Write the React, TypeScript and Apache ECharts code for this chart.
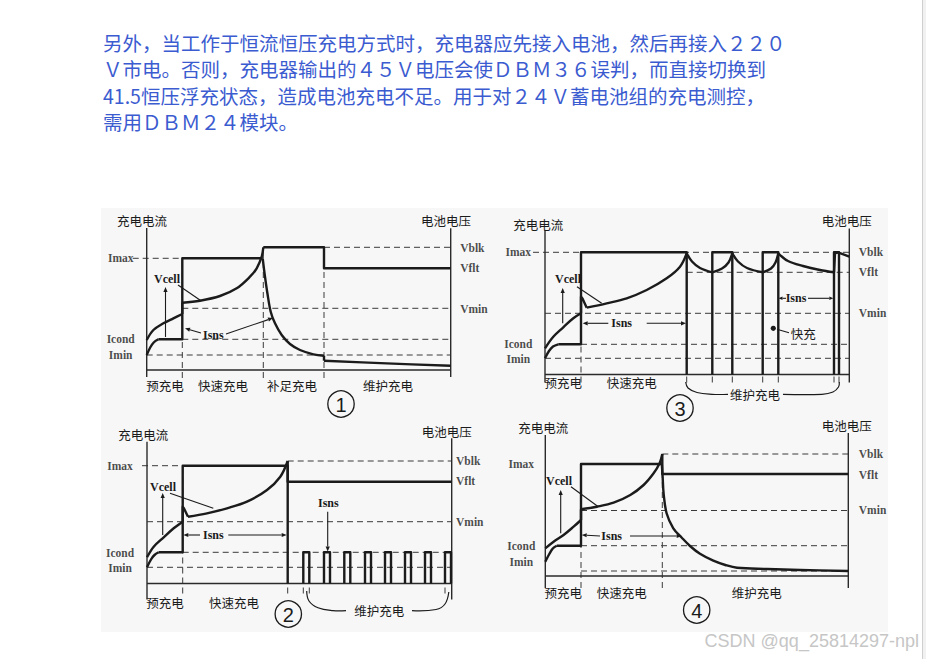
import React, { useEffect, useRef } from "react";
import * as echarts from "echarts";

type Pt = [number, number];
type Seg = { smooth: boolean; pts: Pt[] };
type Lab = [string, number];

// ---------------- text content ----------------
const PARAGRAPH_LINES = [
  "另外，当工作于恒流恒压充电方式时，充电器应先接入电池，然后再接入２２０",
  "Ｖ市电。否则，充电器输出的４５Ｖ电压会使ＤＢＭ３６误判，而直接切换到",
  "41.5恒压浮充状态，造成电池充电不足。用于对２４Ｖ蓄电池组的充电测控，",
  "需用ＤＢＭ２４模块。",
];
const WATERMARK = "CSDN @qq_25814297-npl";
const LEFT_TITLE = "充电电流";
const RIGHT_TITLE = "电池电压";
const PANEL_NUMBERS = ["1", "2", "3", "4"];
const P1_PHASES = ["预充电", "快速充电", "补足充电", "维护充电"];
const P2_PHASES = ["预充电", "快速充电", "维护充电"];
const P3_PHASES = ["预充电", "快速充电", "维护充电"];
const P4_PHASES = ["预充电", "快速充电", "维护充电"];

// ---------------- panel 1 (time units / level units above baseline) ----------------
const P1_ISNS: Seg[] = [
  { smooth: true, pts: [[0, 15], [3.5, 22.5], [7, 27.5], [11.7, 30.7]] },
  { smooth: false, pts: [[11.7, 30.7], [35.6, 30.7], [35.6, 111.7], [116, 111.7]] },
  { smooth: true, pts: [[116, 111.7], [118.3, 93.3], [120.7, 76.7], [124, 58.3], [128.3, 46.7], [135, 35], [143.3, 26], [153.3, 20], [166.7, 15.7], [177.3, 14.3]] },
  { smooth: false, pts: [[177.3, 14.3], [177.3, 9.3]] },
  { smooth: true, pts: [[177.3, 9.3], [240, 6.6], [304, 4.3]] },
];
const P1_VCELL: Seg[] = [
  { smooth: true, pts: [[0, 30], [6.7, 40], [16.7, 46.7], [26.7, 51.7], [35.6, 56]] },
  { smooth: false, pts: [[35.6, 56], [35.6, 67.3]] },
  { smooth: true, pts: [[35.6, 67.3], [53.3, 69.3], [73.3, 74], [90, 81.7], [103.3, 93.3], [110, 101.7], [115, 113.3], [116.6, 122.7]] },
  { smooth: false, pts: [[116.6, 122.7], [177.3, 122.7], [177.3, 101.7], [304, 101.7]] },
];
const P1_DASH_H: [number, number, number][] = [[111.7, -14, 35.6], [122.7, 177.3, 304], [61.7, 35.6, 304], [30.7, 35.6, 304], [15, 0, 304]];
const P1_DASH_V: [number, number, number][] = [[35.6, -8, 111.7], [116.6, -8, 122.7], [177.3, -8, 122.7]];
const P1_LEFT_LABELS: Lab[] = [["Imax", 111.7], ["Icond", 30.7], ["Imin", 15]];
const P1_RIGHT_LABELS: Lab[] = [["Vblk", 122], ["Vflt", 101.7], ["Vmin", 61]];

// ---------------- panel 2 ----------------
const P2_PULSE_STARTS = [156.3, 177, 197.3, 218, 238, 258, 278, 298];
const P2_PULSE_WIDTH = 6;
const P2_ICOND = 31.2;
const P2_ISNS: Seg[] = [
  { smooth: true, pts: [[0, 16.2], [4, 24], [7.5, 28.5], [11.7, 31.2]] },
  { smooth: false, pts: [[11.7, 31.2], [35.7, 31.2], [35.7, 117.8], [140.7, 117.8], [140.7, 0]] },
];
const P2_VCELL: Seg[] = [
  { smooth: true, pts: [[0, 26.2], [6.7, 36.8], [16.7, 46.2], [26.7, 55.2], [35.7, 61.8]] },
  { smooth: false, pts: [[35.7, 61.8], [35.7, 76.8], [37, 75], [41, 66.8]] },
  { smooth: true, pts: [[41, 66.8], [60, 70.2], [80, 75.2], [100, 81.8], [120, 93.5], [133.3, 106.8], [140.7, 122.5]] },
  { smooth: false, pts: [[140.7, 122.5], [140.7, 101.8], [304.7, 101.8]] },
];
const P2_DASH_H: [number, number, number][] = [[117.8, -5, 35.7], [122.5, 140.7, 304.7], [61.8, 0, 304.7], [31.2, 35.7, 304.7], [16.2, 0, 304.7]];
const P2_DASH_V: [number, number, number][] = [[35.7, -10, 117.8], [140.7, -10, 0], [156.3, -10, 0], [162.3, -10, 0], [298, -10, 0]];
const P2_LEFT_LABELS: Lab[] = [["Imax", 117.8], ["Icond", 30.8], ["Imin", 15.8]];
const P2_RIGHT_LABELS: Lab[] = [["Vblk", 122.5], ["Vflt", 102.5], ["Vmin", 61.2]];

// ---------------- panel 3 ----------------
const P3_ISNS: Seg[] = [
  { smooth: true, pts: [[0, 16.2], [4, 23.5], [8, 28], [13.3, 30.2]] },
  { smooth: false, pts: [[13.3, 30.2], [36, 30.2], [36, 122.2], [141.7, 122.2], [141.7, 0]] },
  { smooth: false, pts: [[167.3, 0], [167.3, 122.2], [187.3, 122.2], [187.3, 0]] },
  { smooth: false, pts: [[217.7, 0], [217.7, 122.2], [233.3, 122.2], [233.3, 0]] },
  { smooth: false, pts: [[289, 0], [289, 122.2], [294, 122.2], [294, 0]] },
];
const P3_VCELL: Seg[] = [
  { smooth: true, pts: [[0, 26.2], [8.3, 37.8], [18.3, 47.2], [28.3, 56.2], [36, 61.2]] },
  { smooth: false, pts: [[36, 61.2], [36, 77.8], [37.5, 76], [41.7, 66.8]] },
  { smooth: true, pts: [[41.7, 66.8], [61.7, 71.2], [81.7, 76.2], [101.7, 84.5], [121.7, 96.2], [135, 107.8], [141.7, 121.2]] },
  { smooth: true, pts: [[141.7, 121.2], [147, 113], [155, 106.5], [167.3, 102.2]] },
  { smooth: true, pts: [[167.3, 102.2], [177, 106], [183.5, 112], [187.3, 121.2]] },
  { smooth: true, pts: [[187.3, 121.2], [193, 113], [202, 106.5], [217.7, 102.2]] },
  { smooth: true, pts: [[217.7, 102.2], [226, 106], [230.5, 112], [233.3, 121.2]] },
  { smooth: true, pts: [[233.3, 121.2], [243, 113.5], [258, 108.5], [275, 104.5], [289, 102.2]] },
  { smooth: false, pts: [[289, 102.2], [290, 121], [293, 122.2], [304.3, 117.8]] },
];
const P3_DASH_H: [number, number, number][] = [[122.2, -12, 304.3], [102.2, 141.7, 304.3], [61.2, 0, 304.3], [30.2, 36, 304.3], [16.2, 0, 304.3]];
const P3_DASH_V: [number, number, number][] = [[36, -8, 122.2], [141.7, -8, 0], [167.3, -8, 0], [187.3, -8, 0], [217.7, -8, 0], [233.3, -8, 0], [289, -8, 0], [294, -8, 0]];
const P3_LEFT_LABELS: Lab[] = [["Imax", 122.2], ["Icond", 30.2], ["Imin", 15.5]];
const P3_RIGHT_LABELS: Lab[] = [["Vblk", 122.2], ["Vflt", 102.8], ["Vmin", 61.2]];

// ---------------- panel 4 ----------------
const P4_ISNS: Seg[] = [
  { smooth: true, pts: [[0, 14.3], [4, 22], [7.5, 27.5], [11.5, 30.3]] },
  { smooth: false, pts: [[11.5, 30.3], [35.7, 30.3], [35.7, 112], [116.5, 112]] },
  { smooth: true, pts: [[116.5, 112], [117.3, 100], [118.3, 82.7], [121.3, 62.7], [128, 47.7], [136.3, 38.5], [144.7, 30], [154.7, 22.2], [168, 15.3], [180, 11], [191.7, 8.2], [221.7, 7], [255, 6], [303, 5]] },
];
const P4_VCELL: Seg[] = [
  { smooth: true, pts: [[0, 27.7], [8.3, 34.3], [18.3, 41], [28.3, 49.3], [35.7, 56]] },
  { smooth: false, pts: [[35.7, 56], [35.7, 66.7]] },
  { smooth: true, pts: [[35.7, 66.7], [51.7, 69.3], [68.3, 73.3], [85, 81], [98.3, 91], [108.3, 102.7], [114.3, 112.7], [117, 122]] },
  { smooth: false, pts: [[117, 122], [117, 102], [303, 102]] },
];
const P4_DASH_H: [number, number, number][] = [[122, 117, 303], [65.5, 35.7, 303], [30.3, 35.7, 303], [5, 35.7, 303]];
const P4_DASH_V: [number, number, number][] = [[35.7, -12, 112], [117, -12, 122]];
const P4_LEFT_LABELS: Lab[] = [["Imax", 111.7], ["Icond", 30.3], ["Imin", 14.3]];
const P4_RIGHT_LABELS: Lab[] = [["Vblk", 122.3], ["Vflt", 101], ["Vmin", 66]];

function pulses(starts: number[], w: number, h: number, end: number): Seg[] {
  return starts.map((s) => {
    const e = Math.min(s + w, end);
    return { smooth: false, pts: [[s, 0], [s, h], [e, h], [e, 0]] as Pt[] };
  });
}

// ---------------- layout (positions only) ----------------
const PANELS = [
  { x0: 146.7, y0: 370, w: 304, hL: 142, hR: 141.7, bot: -7, lx: -26, rx: 313, isns: P1_ISNS, vcell: P1_VCELL, dh: P1_DASH_H, dv: P1_DASH_V, ll: P1_LEFT_LABELS, rl: P1_RIGHT_LABELS },
  { x0: 147, y0: 583.5, w: 304.7, hL: 141.8, hR: 145.2, bot: -16, lx: -27, rx: 308.5, isns: [...P2_ISNS, ...pulses(P2_PULSE_STARTS, P2_PULSE_WIDTH, P2_ICOND, 304.7)], vcell: P2_VCELL, dh: P2_DASH_H, dv: P2_DASH_V, ll: P2_LEFT_LABELS, rl: P2_RIGHT_LABELS },
  { x0: 545, y0: 374.5, w: 304.3, hL: 144.5, hR: 146, bot: -8, lx: -26.7, rx: 313.3, isns: P3_ISNS, vcell: P3_VCELL, dh: P3_DASH_H, dv: P3_DASH_V, ll: P3_LEFT_LABELS, rl: P3_RIGHT_LABELS },
  { x0: 545.3, y0: 576, w: 303, hL: 141, hR: 143, bot: -12, lx: -24, rx: 313, isns: P4_ISNS, vcell: P4_VCELL, dh: P4_DASH_H, dv: P4_DASH_V, ll: P4_LEFT_LABELS, rl: P4_RIGHT_LABELS },
];

const INK = "#1b1b1b";
const CJK = "'Noto Sans CJK SC', sans-serif";
const SERIF = "'Liberation Serif', 'DejaVu Serif', serif";
const PAD_X = 60;
const Y_MIN = -24;
const Y_MAX = 160;

function txt(x: number, y: number, text: string, o: any = {}) {
  const align = o.align || "center";
  return {
    type: "text", x, y, z: 50, silent: true,
    style: {
      text, fill: o.fill || INK, fontSize: o.size || 13, fontFamily: o.family || CJK,
      fontWeight: o.weight || "normal", align, textAlign: align,
      verticalAlign: "middle", textVerticalAlign: "middle",
    },
  };
}
function ln(x1: number, y1: number, x2: number, y2: number, w = 1.1) {
  return { type: "line", z: 50, silent: true, shape: { x1, y1, x2, y2 }, style: { stroke: INK, lineWidth: w } };
}
function arrow(x1: number, y1: number, x2: number, y2: number, head = 5) {
  const dx = x2 - x1, dy = y2 - y1;
  const L = Math.hypot(dx, dy) || 1;
  const ux = dx / L, uy = dy / L;
  const bx = x2 - ux * head, by = y2 - uy * head;
  const hw = head * 0.42;
  return [
    ln(x1, y1, bx, by),
    { type: "polygon", z: 50, silent: true, shape: { points: [[x2, y2], [bx - uy * hw, by + ux * hw], [bx + uy * hw, by - ux * hw]] }, style: { fill: INK } },
  ];
}
function circled(cx: number, cy: number, n: string) {
  return [
    { type: "circle", z: 50, silent: true, shape: { cx, cy, r: 13.2 }, style: { fill: "none", stroke: INK, lineWidth: 1.3 } },
    txt(cx, cy + 1, n, { size: 20, family: "'Liberation Sans', Arial, sans-serif" }),
  ];
}
function curve(points: number[][]) {
  return { type: "polyline", z: 50, silent: true, shape: { points, smooth: 0.4 }, style: { stroke: INK, lineWidth: 1.2, fill: null } };
}

function buildOption() {
  const grid: any[] = [], xAxis: any[] = [], yAxis: any[] = [], series: any[] = [];
  PANELS.forEach((p, i) => {
    grid.push({ left: p.x0 - PAD_X, top: p.y0 - Y_MAX, width: p.w + 2 * PAD_X, height: Y_MAX - Y_MIN, show: false });
    xAxis.push({ gridIndex: i, type: "value", min: -PAD_X, max: p.w + PAD_X, show: false });
    yAxis.push({ gridIndex: i, type: "value", min: Y_MIN, max: Y_MAX, show: false });
    const base = { type: "line", xAxisIndex: i, yAxisIndex: i, symbol: "none", silent: true, clip: false, animation: false };
    // axes
    const axisStyle = { color: "#2a2a2a", width: 1.4 };
    series.push({ ...base, z: 3, lineStyle: axisStyle, data: [[0, p.bot], [0, p.hL]] });
    series.push({ ...base, z: 3, lineStyle: axisStyle, data: [[p.w, p.bot], [p.w, p.hR]] });
    series.push({ ...base, z: 3, lineStyle: axisStyle, data: [[0, 0], [p.w, 0]] });
    // dashed levels
    p.dh.forEach(([lv, a, b]) => series.push({ ...base, z: 2, lineStyle: { color: "#3a3a3a", width: 1, type: [6, 4] }, data: [[a, lv], [b, lv]] }));
    p.dv.forEach(([t, a, b]) => series.push({ ...base, z: 2, lineStyle: { color: "#3a3a3a", width: 1, type: [6, 4] }, data: [[t, a], [t, b]] }));
    // curves
    [...p.isns, ...p.vcell].forEach((s) => series.push({ ...base, z: 5, smooth: s.smooth ? 0.35 : false, lineStyle: { color: INK, width: 2.4, join: "round" }, data: s.pts }));
    // level labels
    const lab = { show: true, formatter: "{b}", color: INK, fontFamily: SERIF, fontWeight: "bold", fontSize: 11.5 };
    series.push({ type: "scatter", xAxisIndex: i, yAxisIndex: i, symbolSize: 1, silent: true, itemStyle: { color: "rgba(0,0,0,0)" }, label: { ...lab, position: "inside" }, data: p.ll.map(([n, v]) => ({ name: n, value: [p.lx, v] })) });
    series.push({ type: "scatter", xAxisIndex: i, yAxisIndex: i, symbolSize: 1, silent: true, itemStyle: { color: "rgba(0,0,0,0)" }, label: { ...lab, position: "right", distance: 0 }, data: p.rl.map(([n, v]) => ({ name: n, value: [p.rx, v] })) });
  });

  const g: any[] = [];
  g.push({ type: "rect", z: -10, silent: true, shape: { x: 101, y: 208, width: 787, height: 424 }, style: { fill: "#f7f7f7" } });
  g.push({ type: "rect", z: -10, silent: true, shape: { x: 923, y: 0, width: 3, height: 659 }, style: { fill: "#f1f1f1" } });
  g.push({ type: "line", z: -9, silent: true, shape: { x1: 922.5, y1: 0, x2: 922.5, y2: 659 }, style: { stroke: "#cfcfcf", lineWidth: 1 } });

  const LINE_Y = [42, 68.5, 95, 121.5];
  PARAGRAPH_LINES.forEach((t, k) => g.push(txt(103, LINE_Y[k], t, { align: "left", size: 19.5, fill: "#3b5bd0" })));
  g.push(txt(919, 641, WATERMARK, { align: "right", size: 18, fill: "#c6c6c6", family: "'Liberation Sans', Arial, sans-serif" }));

  // titles
  [[142, 220, 446, 220], [143.3, 434, 446.7, 431], [538.3, 224, 846.7, 220], [543.3, 427.3, 846.7, 425]].forEach(([a, b, c, d]) => {
    g.push(txt(a, b, LEFT_TITLE, { size: 12.5 }));
    g.push(txt(c, d, RIGHT_TITLE, { size: 12.5 }));
  });

  // phase labels
  [[165, 385], [223, 385], [292, 385], [388, 385]].forEach(([x, y], k) => g.push(txt(x, y, P1_PHASES[k], { size: 12.5 })));
  [[165, 602.3], [234, 602.3], [379.3, 610.7]].forEach(([x, y], k) => g.push(txt(x, y, P2_PHASES[k], { size: 12.5 })));
  [[563.3, 382.7], [631.7, 382.7], [755, 394.3]].forEach(([x, y], k) => g.push(txt(x, y, P3_PHASES[k], { size: 12.5 })));
  [[563.3, 592.7], [621.7, 592.7], [756.7, 592.7]].forEach(([x, y], k) => g.push(txt(x, y, P4_PHASES[k], { size: 12.5 })));

  // braces
  g.push(curve([[306.7, 591], [309, 601], [318, 607.8], [333, 610.7], [346, 610.7]]));
  g.push(curve([[412, 610.7], [436, 609.5], [445, 604], [448.8, 592]]));
  g.push(curve([[685.7, 382], [688, 388], [697, 392.5], [712, 394.3], [728, 394.3]]));
  g.push(curve([[783, 394.3], [822, 394.3], [833, 392], [838.5, 387], [839.3, 382]]));

  // circled numbers
  g.push(...circled(341, 404, PANEL_NUMBERS[0]));
  g.push(...circled(288.3, 614, PANEL_NUMBERS[1]));
  g.push(...circled(680, 408, PANEL_NUMBERS[2]));
  g.push(...circled(696.7, 610, PANEL_NUMBERS[3]));

  const ann = { size: 12, family: SERIF, weight: "bold" };
  // panel 1 annotations
  g.push(txt(167, 279, "Vcell", ann));
  g.push(...arrow(165.5, 337, 165.5, 287));
  g.push(ln(178, 285, 201, 300.7));
  g.push(txt(213.3, 335, "Isns", ann));
  g.push(...arrow(201, 333, 185, 328.3));
  g.push(...arrow(226, 334, 273, 318));
  // panel 2
  g.push(txt(163, 486.5, "Vcell", ann));
  g.push(...arrow(162.7, 535, 162.7, 493));
  g.push(ln(170, 493.3, 213.3, 508.3));
  g.push(txt(213.3, 535, "Isns", ann));
  g.push(...arrow(200, 535, 183.3, 535));
  g.push(...arrow(228.3, 535, 286.7, 535));
  g.push(txt(328.3, 503.3, "Isns", ann));
  g.push(...arrow(327.7, 511.7, 327.7, 551.5));
  // panel 3
  g.push(txt(568, 279, "Vcell", ann));
  g.push(...arrow(562.7, 323.3, 562.7, 288));
  g.push(ln(577, 286.7, 601.7, 303.3));
  g.push(txt(621.7, 323.3, "Isns", ann));
  g.push(...arrow(608.3, 323.3, 582.7, 323.3));
  g.push(...arrow(646.7, 323.3, 686, 323.3));
  g.push(txt(796, 298.3, "Isns", ann));
  g.push(...arrow(786, 298.3, 778.5, 298.3, 4));
  g.push(...arrow(808, 298.3, 833.3, 298.3, 4));
  g.push(txt(803.3, 333.3, "快充", { size: 12.5 }));
  g.push({ type: "circle", z: 50, silent: true, shape: { cx: 773.3, cy: 328.3, r: 2.6 }, style: { fill: INK } });
  g.push(ln(777, 329.3, 789, 332.7));
  // panel 4
  g.push(txt(559, 480.7, "Vcell", ann));
  g.push(...arrow(560.7, 533.3, 560.7, 490));
  g.push(ln(571, 486.7, 598.3, 506.7));
  g.push(txt(611.7, 536, "Isns", ann));
  g.push(...arrow(600, 536, 581.7, 535));
  g.push(...arrow(630, 536, 681.7, 536));

  return { animation: false, backgroundColor: "#ffffff", grid, xAxis, yAxis, series, graphic: { elements: g } };
}

export default function App() {
  const ref = useRef<HTMLDivElement>(null);
  useEffect(() => {
    const chart = echarts.init(ref.current!, null, { renderer: "svg", width: 926, height: 659 });
    chart.setOption(buildOption() as any);
    return () => chart.dispose();
  }, []);
  return <div ref={ref} style={{ position: "fixed", left: 0, top: 0, width: 926, height: 659 }} />;
}
